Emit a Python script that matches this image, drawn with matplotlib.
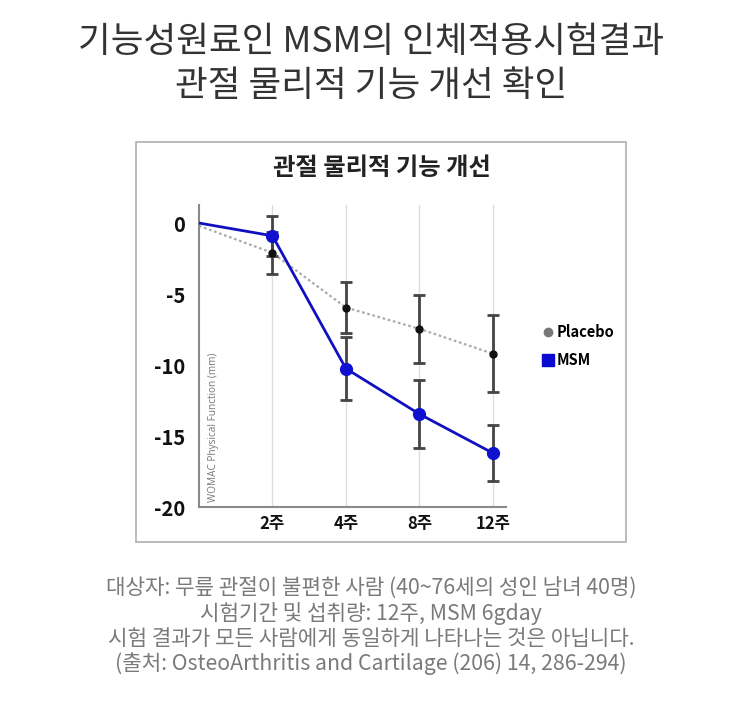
import numpy as np
import matplotlib
matplotlib.use("Agg")
import matplotlib.pyplot as plt
from matplotlib.patches import Rectangle
from matplotlib.lines import Line2D

plt.rcParams['font.family'] = ['Noto Sans CJK KR', 'DejaVu Sans']

# ---- data ----
weeks = ["", "2주", "4주", "8주", "12주"]
placebo = [-0.2, -2.1, -5.95, -7.45, -9.2]
placebo_err = [1.5, 1.8, 2.4, 2.7]
msm = [0.0, -0.9, -10.25, -13.45, -16.2]
msm_err = [1.4, 2.2, 2.4, 2.0]
yticks = [0, -5, -10, -15, -20]

title1 = "기능성원료인 MSM의 인체적용시험결과"
title2 = "관절 물리적 기능 개선 확인"
chart_title = "관절 물리적 기능 개선"
ylabel = "WOMAC Physical Function (mm)"
notes = ["대상자: 무릎 관절이 불편한 사람 (40~76세의 성인 남녀 40명)",
         "시험기간 및 섭취량: 12주, MSM 6gday",
         "시험 결과가 모든 사람에게 동일하게 나타나는 것은 아닙니다.",
         "(출처: OsteoArthritis and Cartilage (206) 14, 286-294)"]

W, H = 742, 703
fig = plt.figure(figsize=(W / 100, H / 100), dpi=100)
fig.patch.set_facecolor("white")

def fx(px):
    return px / W

def fy(py):
    return 1 - py / H

# frame box
fig.patches.append(Rectangle((fx(136), fy(542)), fx(626) - fx(136), fy(142) - fy(542),
                             transform=fig.transFigure, fill=False,
                             edgecolor="#b5b5b5", linewidth=1.3))

# titles
fig.text(0.5, fy(42), title1, ha="center", va="center", fontsize=25.6,
         color="#333333")
fig.text(0.5, fy(86), title2, ha="center", va="center", fontsize=25.6,
         color="#333333")
fig.text(fx(382), fy(168), chart_title, ha="center", va="center", fontsize=17.5,
         color="#222222", fontweight="bold")

# footnotes
for i, t in enumerate(notes):
    fig.text(0.5, fy(588 + i * 25.3), t, ha="center", va="center", fontsize=15.3,
             color="#7a7a7a", fontweight="light")

ax = fig.add_axes([fx(199), fy(507), fx(506) - fx(199), fy(205) - fy(507)])
x = np.arange(len(weeks))

for xi in x[1:]:
    ax.axvline(xi, color="#dedede", linewidth=1.0, zorder=0)

ax.plot(x, placebo, linestyle=(0, (1.2, 1.2)), color="#aaaaaa", linewidth=1.6, zorder=2)
ax.errorbar(x[1:], placebo[1:], yerr=placebo_err, fmt="none", ecolor="#444444",
            elinewidth=2.0, capsize=4.5, capthick=2.0, zorder=3)
ax.errorbar(x[1:], msm[1:], yerr=msm_err, fmt="none", ecolor="#444444",
            elinewidth=2.0, capsize=4.5, capthick=2.0, zorder=3)
ax.plot(x[1:], placebo[1:], "o", color="#111111", markersize=5, zorder=4)
ax.plot(x, msm, color="#1010c0", linewidth=2.0, zorder=5)
ax.plot(x[1:], msm[1:], "o", color="#1010d0", markersize=8.5, zorder=6)

ax.set_xlim(0, 4.18)
ax.set_ylim(-20, 1.27)
ax.set_xticks(x[1:])
ax.set_xticklabels(weeks[1:], fontsize=12, fontweight="bold", color="#111111")
ax.set_yticks(yticks)
ax.set_yticklabels([str(v) for v in yticks], fontsize=14.5, fontweight="bold",
                   color="#111111")
ax.tick_params(length=0)
ax.tick_params(axis="y", pad=10)
ax.tick_params(axis="x", pad=6)
for s in ["top", "right"]:
    ax.spines[s].set_visible(False)
for s in ["left", "bottom"]:
    ax.spines[s].set_color("#8a8a8a")
    ax.spines[s].set_linewidth(1.5)
ax.set_facecolor("none")

ax.text(0.03, 0.015, ylabel, rotation=90, transform=ax.transAxes, ha="left",
        va="bottom", fontsize=7.2, color="#777777", family=["Open Sans", "DejaVu Sans"])

handles = [Line2D([], [], marker="o", linestyle="none", color="#777777", markersize=6),
           Line2D([], [], marker="s", linestyle="none", color="#0a0ad0", markersize=9)]
fig.legend(handles, ["Placebo", "MSM"], loc="center left",
           bbox_to_anchor=(fx(530), fy(346)), frameon=False,
           prop={"size": 10.5, "weight": "bold"}, handlelength=0.6,
           handletextpad=0.35, labelspacing=0.85)

fig.savefig("out.png", dpi=100, facecolor="white")
